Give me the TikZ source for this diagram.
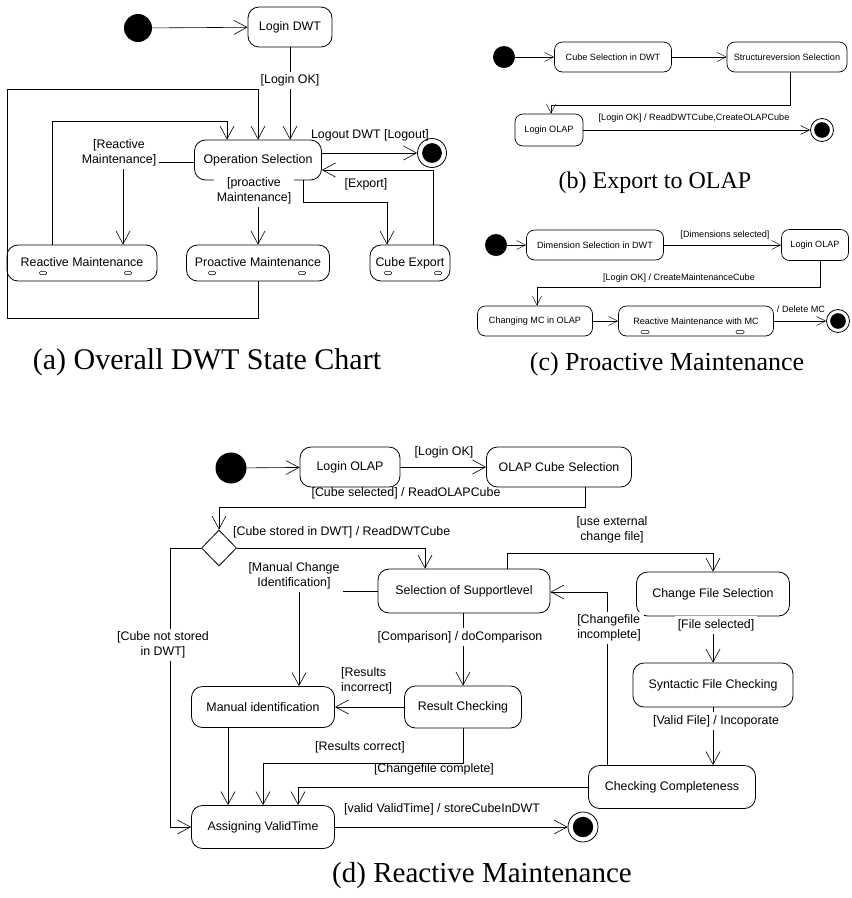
\documentclass[tikz,border=0pt]{standalone}
\usepackage{fontspec}
\setmainfont{Liberation Serif}
\newfontfamily\diag{Liberation Sans}
\usetikzlibrary{arrows.meta,shapes.geometric}
\begin{document}
\begin{tikzpicture}[x=1pt,y=-1pt,
 stbox/.style={draw,rounded corners=11pt,line width=0.8pt,font=\diag\fontsize{12.4}{14}\selectfont,inner sep=0pt},
 sstbox/.style={draw,rounded corners=8pt,line width=0.7pt,font=\diag\fontsize{9.1}{11}\selectfont,inner sep=0pt},
 lbl/.style={font=\diag\fontsize{12.4}{15}\selectfont,inner sep=1pt,align=center},
 slbl/.style={font=\diag\fontsize{9.1}{11}\selectfont,inner sep=1pt,align=center},
 wl/.style={fill=white,inner sep=3pt},
 conn/.style={line width=0.6pt,-{Straight Barb[length=13pt,width=14pt]}},
 sconn/.style={line width=0.5pt,-{Straight Barb[length=9pt,width=9pt]}},
 initdot/.style={circle,fill=black,inner sep=0pt,minimum size=#1},
 finaldot/.style={circle,draw,fill=white,line width=0.8pt,minimum size=#1,inner sep=0pt,
   path picture={\fill[black] (path picture bounding box.center) circle[radius=0.34*#1];}},
 iconbox/.style={draw,line width=0.5pt,rounded corners=1pt,inner sep=0pt,minimum width=7pt,minimum height=3pt},
 captext/.style={font=\fontsize{#1}{#1}\selectfont,inner sep=0pt},
]
\useasboundingbox (0,0) rectangle (852,898);

% ===================== (a) =====================
\node[initdot=28pt] (ai) at (138,28) {};
\node[stbox,minimum width=84pt,minimum height=40pt] (alogin) at (290,27) {Login DWT};
\node[stbox,minimum width=127pt,minimum height=40pt] (aop) at (258,160) {Operation Selection};
\node[finaldot=29pt] (af) at (432,153) {};
\node[stbox,minimum width=150pt,minimum height=36pt] (areact) at (82,263) {\raisebox{2pt}{Reactive Maintenance}};
\node[stbox,minimum width=143pt,minimum height=36pt] (apro) at (258,263) {\raisebox{2pt}{Proactive Maintenance}};
\node[stbox,minimum width=80pt,minimum height=36pt] (acube) at (410,263) {\raisebox{2pt}{Cube Export}};
\foreach \x in {43,128,212,302,388,438} \node[iconbox] at (\x,273) {};

\coordinate (ac1) at (52,121);
\coordinate (ac2) at (227,121);
\coordinate (ac3) at (258,318);
\coordinate (ac4) at (7,318);
\coordinate (ac5) at (7,89);
\coordinate (ac6) at (258,89);
\coordinate (ac7) at (123,162);
\coordinate (ac8) at (303,202);
\coordinate (ac9) at (387,202);
\coordinate (ac10) at (433,170);

\draw[conn] (ai) -- (alogin);
\draw[conn] (alogin) -- (aop.north -| alogin) node[lbl,wl,pos=0.36] {[Login OK]};
\draw[conn] (areact.north -| ac1) -- (ac1) -- (ac2) -- (aop.north -| ac2);
\draw[conn] (apro.south -| ac3) -- (ac3) -- (ac4) -- (ac5) -- (ac6) -- (aop.north -| ac6);
\draw[conn] (aop.west |- ac7) -- (ac7) -- (areact.north -| ac7);
\node[lbl,wl] at (119,153) {[Reactive\\Maintenance]};
\draw[conn] (aop.south) -- (apro.north);
\node[lbl,wl] at (254,191) {[proactive\\Maintenance]};
\draw[conn] (aop.south -| ac8) -- (ac8) -- (ac9) -- (acube.north -| ac9);
\draw[conn] (acube.north -| ac10) -- (ac10) -- (aop.east |- ac10);
\node[lbl] at (366,184) {[Export]};
\draw[conn] (aop.east |- af) -- (af);
\node[lbl] at (370,135) {Logout DWT [Logout]};
\node[captext=30] (acap) at (207,362) {(a) Overall DWT State Chart};

% ===================== (b) =====================
\node[initdot=22pt] (bi) at (504,57) {};
\node[sstbox,minimum width=117pt,minimum height=30pt] (bcube) at (613,57) {Cube Selection in DWT};
\node[sstbox,minimum width=120pt,minimum height=30pt] (bstruct) at (787,57) {Structureversion Selection};
\node[sstbox,minimum width=68pt,minimum height=32pt] (blogin) at (549,130) {Login OLAP};
\node[finaldot=23pt] (bf) at (822,130) {};
\coordinate (bc1) at (790,105);
\coordinate (bc2) at (551,105);
\draw[sconn] (bi) -- (bcube);
\draw[sconn] (bcube) -- (bstruct);
\draw[sconn] (bstruct.south -| bc1) -- (bc1) -- (bc2) -- (blogin.north -| bc2);
\draw[sconn] (blogin) -- (bf);
\node[slbl] at (694,118) {[Login OK] / ReadDWTCube,CreateOLAPCube};
\node[captext=24] (bcap) at (655,183) {(b) Export to OLAP};

% ===================== (c) =====================
\node[initdot=22pt] (ci) at (496,245) {};
\node[sstbox,minimum width=137pt,minimum height=30pt] (cdim) at (595,245) {Dimension Selection in DWT};
\node[sstbox,minimum width=67pt,minimum height=31pt] (clogin) at (815,245) {Login OLAP};
\node[sstbox,minimum width=115pt,minimum height=30pt] (cchg) at (535,321) {Changing MC in OLAP};
\node[sstbox,minimum width=155pt,minimum height=30pt] (creact) at (696,321) {Reactive Maintenance with MC};
\node[finaldot=23pt] (cf) at (838,321) {};
\foreach \x in {645,740} \node[iconbox,minimum width=8pt] at (\x,332) {};
\coordinate (cc1) at (820,287);
\coordinate (cc2) at (537,287);
\draw[sconn] (ci) -- (cdim);
\draw[sconn] (cdim) -- (clogin);
\node[slbl] at (725,235) {[Dimensions selected]};
\draw[sconn] (clogin.south -| cc1) -- (cc1) -- (cc2) -- (cchg.north -| cc2);
\node[slbl] at (679,278) {[Login OK] / CreateMaintenanceCube};
\draw[sconn] (cchg) -- (creact);
\draw[sconn] (creact) -- (cf);
\node[slbl] at (801,309) {/ Delete MC};
\node[captext=26] (ccap) at (667,364) {(c) Proactive Maintenance};

% ===================== (d) =====================
\node[initdot=31pt] (di) at (231,468) {};
\node[stbox,minimum width=100pt,minimum height=40pt] (dlogin) at (350,467) {Login OLAP};
\node[stbox,minimum width=145pt,minimum height=40pt] (dcube) at (559,467) {OLAP Cube Selection};
\node[diamond,aspect=1,draw,line width=0.8pt,minimum width=35pt,minimum height=36pt,inner sep=0pt] (ddia) at (219,548) {};
\node[stbox,minimum width=172pt,minimum height=44pt] (dsel) at (464,591) {Selection of Supportlevel};
\node[stbox,minimum width=153pt,minimum height=44pt] (dcfs) at (713,594) {Change File Selection};
\node[stbox,minimum width=160pt,minimum height=44pt] (dsyn) at (713,685) {Syntactic File Checking};
\node[stbox,minimum width=167pt,minimum height=43pt] (dcc) at (672,787) {Checking Completeness};
\node[stbox,minimum width=143pt,minimum height=41pt] (dman) at (263,707) {Manual identification};
\node[stbox,minimum width=117pt,minimum height=42pt] (dres) at (463,707) {Result Checking};
\node[stbox,minimum width=143pt,minimum height=43pt] (dass) at (263,827) {Assigning ValidTime};
\node[finaldot=30pt] (df) at (583,827) {};

\coordinate (dc1) at (585,507);
\coordinate (dc2) at (219,507);
\coordinate (dc3) at (425,548);
\coordinate (dc4) at (170,548);
\coordinate (dc5) at (170,827);
\coordinate (dc6) at (507,553);
\coordinate (dc7) at (713,553);
\coordinate (dc8) at (299,591);
\coordinate (dc9) at (463,763);
\coordinate (dc10) at (263,763);
\coordinate (dc11) at (228,0);
\coordinate (dc12) at (298,787);
\coordinate (dc13) at (607,592);

\draw[conn] (di) -- (dlogin);
\draw[conn] (dlogin) -- (dcube);
\node[lbl] at (444,452) {[Login OK]};
\draw[conn] (dcube.south -| dc1) -- (dc1) -- (dc2) -- (ddia.north);
\node[lbl] at (406,493) {[Cube selected] / ReadOLAPCube};
\draw[conn] (ddia.east) -- (dc3) -- (dsel.north -| dc3);
\node[lbl,anchor=west] at (232,532) {[Cube stored in DWT] / ReadDWTCube};
\draw[conn] (ddia.west) -- (dc4) -- (dc5) -- (dass.west);
\node[lbl,wl] at (163,645) {[Cube not stored\\in DWT]};
\draw[conn] (dsel.north -| dc6) -- (dc6) -- (dc7) -- (dcfs.north);
\node[lbl] at (612,530) {[use external\\change file]};
\draw[conn] (dsel.west |- dc8) -- (dc8) -- (dman.north -| dc8);
\node[lbl,wl] at (294,576) {[Manual Change\\Identification]};
\draw[conn] (dsel.south -| dres.north) -- (dres.north);
\node[lbl,wl] at (460,637) {[Comparison] / doComparison};
\draw[conn] (dres.west) -- (dman.east);
\node[lbl,align=left,anchor=west] at (340,681) {[Results\\incorrect]};
\draw[conn] (dres.south) -- (dc9) -- (dc10) -- (dass.north);
\node[lbl] at (360,747) {[Results correct]};
\draw[conn] (dman.south -| dc11) -- (dass.north -| dc11);
\draw[conn] (dcc.west) -- (dc12) -- (dass.north -| dc12);
\node[lbl] at (434,769) {[Changefile complete]};
\draw[conn] (dcc.north -| dc13) -- (dc13) -- (dsel.east |- dc13);
\node[lbl,wl,align=left] at (609,628) {[Changefile\\incomplete]};
\draw[conn] (dcfs) -- (dsyn);
\node[lbl,wl] at (716,625) {[File selected]};
\draw[conn] (dsyn.south) -- (dcc.north -| dsyn.south);
\node[lbl,wl] at (716,721) {[Valid File] / Incoporate};
\draw[conn] (dass) -- (df);
\node[lbl,anchor=west] at (343,809) {[valid ValidTime] / storeCubeInDWT};
\node[captext=29] (dcap) at (482,876) {(d) Reactive Maintenance};
\end{tikzpicture}
\end{document}
